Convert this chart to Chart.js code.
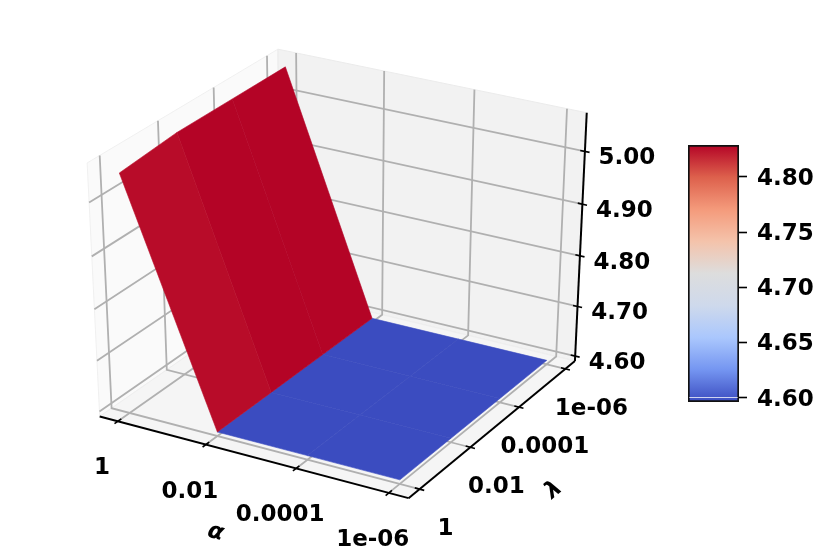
<!DOCTYPE html>
<html>
<head>
<meta charset="utf-8">
<title>Surface</title>
<script src="https://cdn.jsdelivr.net/npm/chart.js@4"></script>
<style>
    html, body { margin: 0; padding: 0; background: #fff; }
    #surface { position: absolute; left: 0; top: 0; }
    #colorbar { position: absolute; left: 670px; top: 130px; }
</style>
</head>
<body>
<canvas id="surface" width="831" height="547"></canvas>
<canvas id="colorbar" width="161" height="290"></canvas>
<script>
// Tick labels
const alphaLabels = ["1", "0.01", "0.0001", "1e-06"];
const lambdaLabels = ["1", "0.01", "0.0001", "1e-06"];
const zTicks = [4.6, 4.7, 4.8, 4.9, 5.0];
const colorbarTicks = [4.6, 4.65, 4.7, 4.75, 4.8];

// Axis ranges, in tick units for alpha and lambda
const alphaRange = [-0.21, 3.21];
const lambdaRange = [-0.21, 3.21];
const zRange = [4.59, 5.072];
const colorRange = [4.596, 4.829];
const surfaceColorRange = [4.598, 4.828];

// Surface samples: one row per alpha, one column per lambda
const alphaGrid = [0, 1, 2, 3];
const lambdaGrid = [0, 1, 2, 3];
const zRow1 = [5.048, 5.058, 5.058, 5.058];
const zRow2 = [4.598, 4.598, 4.598, 4.598];
const zRow3 = [4.598, 4.598, 4.598, 4.598];
const zRow4 = [4.598, 4.598, 4.598, 4.598];
const zGrid = [zRow1, zRow2, zRow3, zRow4];

// coolwarm colour map
const coolwarmStops = [0, 0.125, 0.25, 0.375, 0.5, 0.625, 0.75, 0.875, 1];
const coolwarmColors = [
    [59, 76, 192], [116, 149, 241], [170, 199, 253], [206, 217, 236],
    [221, 221, 221], [244, 195, 171], [244, 154, 123], [221, 96, 76], [180, 4, 38]
];

const gridColor = "#b0b0b0";

function coolwarm(t) {
    t = Math.min(1, Math.max(0, t));
    let i = 0;
    while (i < coolwarmStops.length - 2 && t > coolwarmStops[i + 1]) i++;
    const f = (t - coolwarmStops[i]) / (coolwarmStops[i + 1] - coolwarmStops[i]);
    const c = coolwarmColors[i].map((v, k) => Math.round(v + (coolwarmColors[i + 1][k] - v) * f));
    return `rgb(${c[0]},${c[1]},${c[2]})`;
}

// Camera of the 3D axes: elevation 30, azimuth -60, distance 10
const camU = [0.866025, 0.5, 0];
const camV = [-0.25, 0.433013, 0.866025];
const camW = [0.433013, -0.75, 0.5];

function project(a, l, z) {
    const p = [
        (a - alphaRange[0]) / (alphaRange[1] - alphaRange[0]) - 0.5,
        (l - lambdaRange[0]) / (lambdaRange[1] - lambdaRange[0]) - 0.5,
        (z - zRange[0]) / (zRange[1] - zRange[0]) - 0.5
    ];
    const dot = (q) => q[0] * p[0] + q[1] * p[1] + q[2] * p[2];
    const depth = 10 - dot(camW);
    return { x: dot(camU) / depth, y: dot(camV) / depth, depth: depth };
}

const datasets = [];

function addPath(corners, fillColor, lineColor, lineWidth) {
    datasets.push({
        data: corners.map(c => project(c[0], c[1], c[2])),
        showLine: true,
        pointRadius: 0,
        tension: 0,
        fill: fillColor ? "shape" : false,
        backgroundColor: fillColor || "transparent",
        borderColor: lineColor || "transparent",
        borderWidth: lineWidth || 0
    });
}

const [aMin, aMax] = alphaRange;
const [lMin, lMax] = lambdaRange;
const [zMin, zMax] = zRange;

// Panes
addPath([[aMin, lMin, zMin], [aMin, lMax, zMin], [aMin, lMax, zMax], [aMin, lMin, zMax], [aMin, lMin, zMin]], "#fafafa", "#f0f0f0", 1);
addPath([[aMin, lMax, zMin], [aMax, lMax, zMin], [aMax, lMax, zMax], [aMin, lMax, zMax], [aMin, lMax, zMin]], "#f2f2f2", "#ebebeb", 1);
addPath([[aMin, lMin, zMin], [aMax, lMin, zMin], [aMax, lMax, zMin], [aMin, lMax, zMin], [aMin, lMin, zMin]], "#f5f5f5", "#eeeeee", 1);

// Grid lines
alphaLabels.forEach((_, i) => addPath([[i, lMin, zMin], [i, lMax, zMin], [i, lMax, zMax]], null, gridColor, 1.8));
lambdaLabels.forEach((_, i) => addPath([[aMax, i, zMin], [aMin, i, zMin], [aMin, i, zMax]], null, gridColor, 1.8));
zTicks.forEach(z => addPath([[aMin, lMin, z], [aMin, lMax, z], [aMax, lMax, z]], null, gridColor, 1.8));

// Axis lines
addPath([[aMin, lMin, zMin], [aMax, lMin, zMin]], null, "#000", 2);
addPath([[aMax, lMin, zMin], [aMax, lMax, zMin]], null, "#000", 2);
addPath([[aMax, lMax, zMin], [aMax, lMax, zMax]], null, "#000", 2);

// Tick marks
alphaLabels.forEach((_, i) => addPath([[i, lMin - 0.06, zMin], [i, lMin + 0.06, zMin]], null, "#000", 1.6));
lambdaLabels.forEach((_, i) => addPath([[aMax - 0.05, i, zMin], [aMax + 0.05, i, zMin]], null, "#000", 1.6));
zTicks.forEach(z => addPath([[aMax - 0.05, lMax, z], [aMax + 0.05, lMax, z]], null, "#000", 1.6));

// Surface cells, far ones first
const cells = [];
for (let i = 0; i < alphaGrid.length - 1; i++) {
    for (let j = 0; j < lambdaGrid.length - 1; j++) {
        const corners = [
            [alphaGrid[i], lambdaGrid[j], zGrid[i][j]],
            [alphaGrid[i + 1], lambdaGrid[j], zGrid[i + 1][j]],
            [alphaGrid[i + 1], lambdaGrid[j + 1], zGrid[i + 1][j + 1]],
            [alphaGrid[i], lambdaGrid[j + 1], zGrid[i][j + 1]]
        ];
        const meanZ = corners.reduce((s, c) => s + c[2], 0) / 4;
        const meanDepth = corners.reduce((s, c) => s + project(c[0], c[1], c[2]).depth, 0) / 4;
        cells.push({ corners, meanZ, meanDepth });
    }
}
cells.sort((a, b) => b.meanDepth - a.meanDepth);
cells.forEach(cell => {
    const t = (cell.meanZ - surfaceColorRange[0]) / (surfaceColorRange[1] - surfaceColorRange[0]);
    const color = coolwarm(t);
    addPath(cell.corners.concat([cell.corners[0]]), color, color, 0.6);
});

// First dataset has to be painted first
datasets.forEach((d, i) => { d.order = datasets.length - i; });

const boldFont = '"DejaVu Sans"';

const axisText = {
    id: "axisText",
    afterDraw(chart) {
        const ctx = chart.ctx;
        const xs = chart.scales.x;
        const ys = chart.scales.y;
        const px = (pt) => [xs.getPixelForValue(pt.x), ys.getPixelForValue(pt.y)];
        ctx.save();
        ctx.fillStyle = "#000";
        ctx.font = `bold 23px ${boldFont}`;
        ctx.textAlign = "center";
        ctx.textBaseline = "middle";
        alphaLabels.forEach((label, i) => {
            const [x, y] = px(project(i, lMin, zMin));
            ctx.fillText(label, x - 16, y + 47);
        });
        lambdaLabels.forEach((label, i) => {
            const [x, y] = px(project(aMax, i, zMin));
            ctx.fillText(label, x + 26, y + 40);
        });
        zTicks.forEach(z => {
            const [x, y] = px(project(aMax, lMax, z));
            ctx.fillText(z.toFixed(2), x + 42, y + 7);
        });
        ctx.font = `italic bold 23px ${boldFont}`;
        const title = (text, a, l, dx, dy, angle) => {
            const [x, y] = px(project(a, l, zMin));
            ctx.save();
            ctx.translate(x + dx, y + dy);
            ctx.rotate(angle * Math.PI / 180);
            ctx.fillText(text, 0, 0);
            ctx.restore();
        };
        title("α", 1.5, lMin, -35, 76, 15);
        title("λ", aMax, 1.5, 59, 63, -40);
        ctx.restore();
    }
};

new Chart(document.getElementById("surface"), {
    type: "scatter",
    data: { datasets: datasets },
    options: {
        responsive: false,
        animation: false,
        layout: { padding: 0 },
        plugins: { legend: { display: false }, tooltip: { enabled: false } },
        scales: {
            x: { type: "linear", display: false, min: -341 / 3565, max: 490 / 3565 },
            y: { type: "linear", display: false, min: -281 / 2895, max: 266 / 2895 }
        }
    },
    plugins: [axisText]
});

function colorbarFill(context) {
    const chart = context.chart;
    const scale = chart.scales.y;
    if (!chart.chartArea || !scale) return coolwarm(0.5);
    const gradient = chart.ctx.createLinearGradient(0, scale.getPixelForValue(colorRange[0]), 0, scale.getPixelForValue(colorRange[1]));
    coolwarmStops.forEach(s => gradient.addColorStop(s, coolwarm(s)));
    return gradient;
}

new Chart(document.getElementById("colorbar"), {
    type: "bar",
    data: {
        labels: ["z"],
        datasets: [
            { data: [[4.5997, 4.6003]], backgroundColor: "#fff", barPercentage: 0.95, categoryPercentage: 1, order: 1 },
            { data: [colorRange], backgroundColor: colorbarFill, borderColor: "#111", borderWidth: 2, borderSkipped: false, barPercentage: 1, categoryPercentage: 1, order: 2 }
        ]
    },
    options: {
        responsive: false,
        animation: false,
        layout: { padding: { left: 18, top: 15, bottom: 18, right: 0 } },
        plugins: { legend: { display: false }, tooltip: { enabled: false } },
        datasets: { bar: { grouped: false } },
        scales: {
            x: { display: false },
            y: {
                position: "right",
                min: colorRange[0],
                max: colorRange[1],
                afterBuildTicks(axis) { axis.ticks = colorbarTicks.map(v => ({ value: v })); },
                afterFit(axis) { axis.width = 92; axis.paddingTop = 0; axis.paddingBottom = 0; },
                border: { display: false },
                grid: { drawOnChartArea: false, drawTicks: true, tickLength: 8, tickWidth: 1.6, tickColor: "#000" },
                ticks: {
                    color: "#000",
                    padding: 10,
                    labelOffset: 2,
                    font: { family: "DejaVu Sans", weight: "bold", size: 23 },
                    callback: v => v.toFixed(2)
                }
            }
        }
    }
});
</script>
</body>
</html>
